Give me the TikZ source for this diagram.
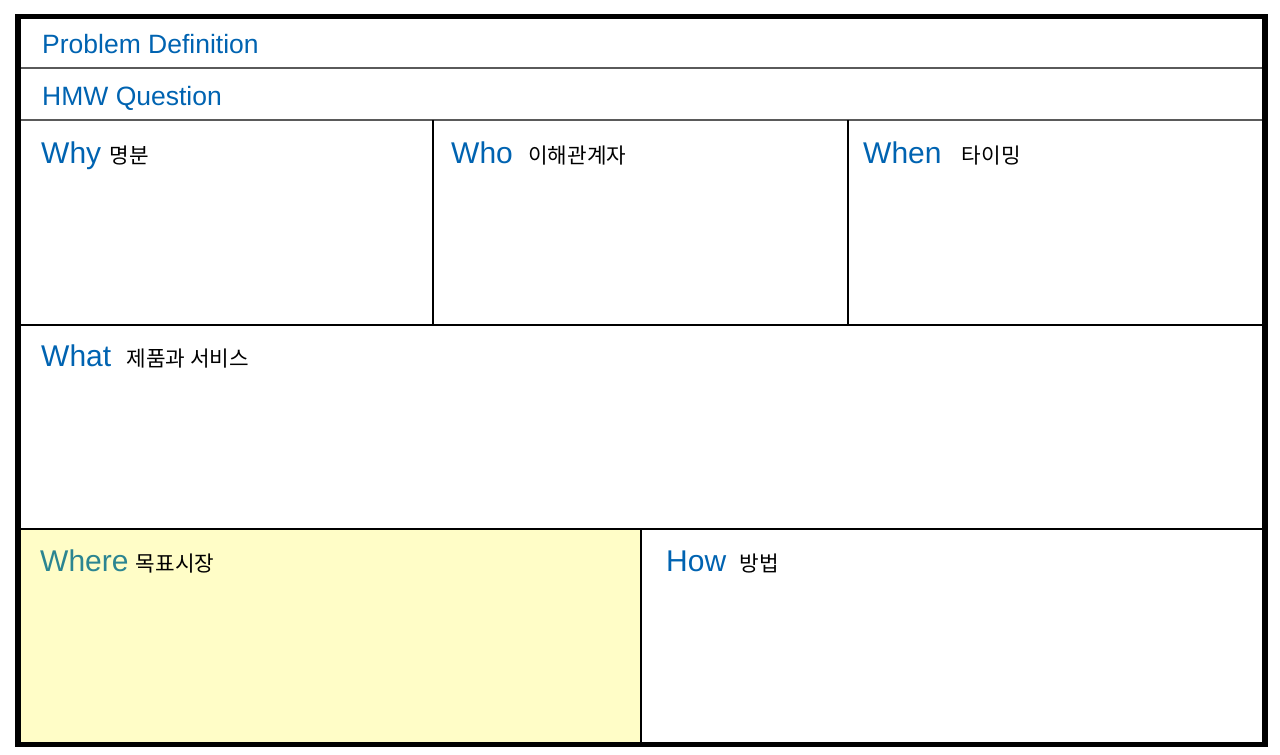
\documentclass[tikz,border=0pt]{standalone}
\usepackage{fontspec}
\setmainfont{Liberation Sans}
\newfontfamily\kor{Noto Sans CJK KR}
\usetikzlibrary{positioning}

\definecolor{hmwblue}{RGB}{0,99,177}
\definecolor{hmwteal}{RGB}{43,133,145}
\definecolor{hmwyellow}{RGB}{255,253,199}
\definecolor{hmwgrey}{RGB}{90,90,90}

\tikzset{
  title/.style={anchor=base west, inner sep=0, text=hmwblue, font=\fontsize{26.5}{30}\selectfont},
  head/.style={anchor=base west, inner sep=0, text=hmwblue, font=\fontsize{30}{34}\selectfont},
  sub/.style={anchor=base west, inner sep=0, text=black, font=\kor\fontsize{21.3}{24}\selectfont},
  rule/.style={line width=1.5, black},
  thinrule/.style={line width=2, hmwgrey}
}

\begin{document}
\begin{tikzpicture}[x=1pt,y=-1pt]
    \useasboundingbox (0,0) rectangle (1280,755);

    % grid corners
    \coordinate (tl) at (18,16.5);
    \coordinate (br) at (1265,744.5);

    \fill[hmwyellow] (18,529) rectangle (641,744.5);

    \draw[thinrule] (18,68) -- (1265,68);
    \draw[thinrule] (18,120) -- (1265,120);
    \draw[rule] (18,325) -- (1265,325);
    \draw[rule] (18,529) -- (1265,529);
    \draw[rule] (433,120) -- (433,325);
    \draw[rule] (848,120) -- (848,325);
    \draw[rule] (641,529) -- (641,744.5);

    \draw[line width=5.5] (tl) rectangle (br);

    \node[title] (prob) at (42,53) {Problem Definition};
    \node[title] (hmw) at (42,105) {HMW Question};

    \node[head] (why) at (41,163) {Why};
    \node[sub] (whyk) at ([xshift=8]why.base east) {명분};
    \node[head] (who) at (451,163) {Who};
    \node[sub] (whok) at ([xshift=15]who.base east) {이해관계자};
    \node[head] (when) at (863,163) {When};
    \node[sub] (whenk) at ([xshift=20]when.base east) {타이밍};
    \node[head] (what) at (41,366.5) {What};
    \node[sub] (whatk) at ([xshift=15]what.base east) {제품과 서비스};
    \node[head, text=hmwteal] (where) at (40,571.5) {Where};
    \node[sub] (wherek) at ([xshift=7]where.base east) {목표시장};
    \node[head] (how) at (666,571.5) {How};
    \node[sub] (howk) at ([xshift=13]how.base east) {방법};
\end{tikzpicture}
\end{document}
